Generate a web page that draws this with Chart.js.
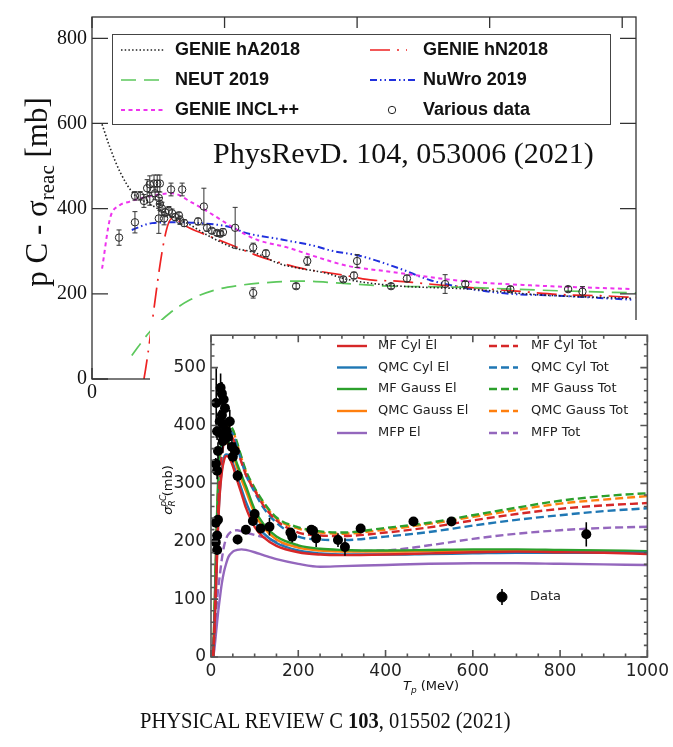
<!DOCTYPE html>
<html>
<head>
<meta charset="utf-8">
<script src="https://cdn.jsdelivr.net/npm/chart.js@4.4.1/dist/chart.umd.min.js"></script>
<style>
     html, body { margin: 0; padding: 0; background: #fff; }
     #page { position: relative; width: 673px; height: 747px; overflow: hidden; background: #fff; }
     #top { position: absolute; left: 0; top: 0; }
     #bottom { position: absolute; left: 150px; top: 320px; background: #fff; }
     .cite { position: absolute; font-family: 'Liberation Serif', serif; color: #111; white-space: nowrap; line-height: 1; }
     #citeD { left: 213px; top: 138px; font-size: 30px; }
     #citeC { left: 140px; top: 708px; font-size: 24px; transform: scaleX(0.855); transform-origin: 0 0; }
</style>
</head>
<body>
<div id="page">
     <canvas id="top" width="673" height="420"></canvas>
     <div class="cite" id="citeD">PhysRevD. 104, 053006 (2021)</div>
     <canvas id="bottom" width="523" height="385"></canvas>
     <div class="cite" id="citeC">PHYSICAL REVIEW C <b>103</b>, 015502 (2021)</div>
</div>
<script>
// ---- upper panel: generator comparison ----
const topXTicks = [0, 250, 500, 750, 1000];
const topYTicks = [0, 200, 400, 600, 800];

// data compilation (open circles)
const topDataE = [51, 81, 81, 91, 98, 104, 109, 117, 123, 128, 109, 119, 126, 128, 132, 126, 136, 138, 145, 151,
     157, 164, 149, 170, 166, 174, 200, 211, 217, 226, 236, 242, 247, 270, 304, 328, 406, 474, 494, 500,
     564, 594, 666, 704, 789, 898, 925, 304, 385];
const topDataS = [332, 368, 430, 430, 418, 448, 457, 459, 459, 459, 423, 436, 425, 411, 400, 377, 377, 391, 395, 389,
     380, 384, 445, 445, 373, 366, 370, 405, 355, 348, 343, 341, 345, 355, 309, 295, 277, 234, 243, 277,
     218, 236, 223, 223, 211, 211, 205, 202, 218];
const topDataErr = [18, 25, 10, 10, 15, 20, 20, 20, 20, 20, 15, 15, 15, 15, 15, 35, 15, 10, 10, 10,
     8, 8, 15, 15, 10, 8, 8, 43, 8, 6, 6, 6, 8, 48, 10, 8, 10, 6, 8, 15,
     6, 8, 22, 6, 6, 6, 12, 12, 6];

const hA2018E = [19, 34, 53, 79, 109, 147, 179, 223, 270, 304, 355, 387, 443, 481, 562, 713, 840, 1020];
const hA2018S = [598, 543, 486, 434, 411, 384, 366, 334, 307, 298, 270, 261, 248, 234, 220, 211, 198, 189];

const neut2019E = [75, 109, 147, 185, 232, 279, 336, 392, 468, 562, 676, 883, 1026];
const neut2019S = [55, 111, 155, 186, 209, 220, 227, 230, 225, 218, 216, 207, 202];

const inclE = [19, 34, 51, 70, 94, 151, 189, 221, 274, 311, 368, 425, 481, 562, 700, 827, 1020];
const inclS = [259, 377, 407, 416, 425, 436, 414, 391, 350, 327, 309, 286, 266, 252, 230, 220, 211];

const hN2018E = [98, 151, 183, 228, 270, 313, 355, 398, 443, 487, 530, 576, 619, 700, 794, 889, 972, 1026];
const hN2018S = [0, 377, 355, 332, 311, 289, 273, 259, 250, 241, 232, 230, 225, 216, 207, 198, 195, 191];

const nuwroE = [75, 113, 164, 204, 266, 285, 360, 425, 449, 506, 581, 638, 694, 770, 889, 1020];
const nuwroS = [350, 366, 368, 366, 355, 345, 327, 311, 302, 289, 259, 232, 216, 202, 195, 186];

// ---- lower panel: optical model (T_p in MeV, sigma in mb) ----
const botXTicks = [0, 200, 400, 600, 800, 1000];
const botYTicks = [0, 100, 200, 300, 400, 500];

const tp = [5, 8, 12, 16, 20, 25, 30, 35, 40, 50, 60, 70, 80, 100, 120, 150, 200, 250, 300, 400, 500, 600, 700, 800, 900, 1000];

const mfCylEl    = [0, 50, 130, 220, 280, 320, 340, 347, 346, 330, 305, 282, 258, 225, 207, 192, 181, 177, 176, 177, 179, 181, 182, 181, 180, 178];
const qmcCylEl   = [0, 52, 135, 225, 285, 325, 345, 350, 349, 335, 312, 290, 268, 235, 214, 197, 184, 179, 177, 177, 178, 179, 180, 180, 180, 180];
const mfGaussEl  = [0, 80, 200, 300, 350, 372, 378, 377, 372, 355, 333, 314, 295, 255, 230, 208, 193, 187, 185, 184, 185, 186, 186, 185, 184, 183];
const qmcGaussEl = [0, 70, 185, 285, 340, 365, 372, 371, 366, 350, 327, 306, 287, 248, 224, 203, 189, 184, 182, 182, 183, 184, 184, 183, 182, 181];
const mfpEl      = [0, 15, 45, 75, 100, 128, 148, 162, 173, 182, 185, 186, 185, 181, 176, 169, 161, 156, 157, 159, 161, 162, 162, 161, 160, 159];

const mfCylTot    = [0, 50, 150, 250, 310, 350, 372, 382, 385, 378, 358, 336, 315, 288, 262, 236, 215, 210, 209, 215, 224, 236, 247, 256, 262, 266];
const qmcCylTot   = [0, 50, 150, 250, 315, 355, 378, 388, 392, 385, 362, 338, 315, 285, 258, 232, 208, 203, 202, 208, 216, 227, 237, 245, 252, 257];
const mfGaussTot  = [0, 60, 180, 280, 340, 375, 393, 400, 402, 393, 370, 345, 322, 292, 268, 241, 224, 217, 215, 223, 232, 245, 258, 270, 278, 283];
const qmcGaussTot = [0, 55, 170, 270, 335, 370, 390, 397, 400, 392, 368, 343, 320, 290, 266, 239, 222, 215, 213, 220, 230, 242, 254, 265, 272, 278];
const mfpTot      = [0, 25, 80, 115, 140, 170, 192, 205, 212, 218, 219, 217, 215, 211, 207, 199, 190, 185, 183, 184, 193, 204, 213, 219, 223, 225];

const dataTp  = [12, 14, 14, 16, 20, 25, 27, 25, 27, 32, 36, 39, 43, 48, 50, 55, 61, 25, 29, 11,
     22, 11, 16, 14, 11, 14, 61, 80, 96, 100, 114, 134, 182, 186, 230, 234, 241, 291, 307, 343,
     464, 551, 860];
const dataSig = [439, 390, 322, 356, 407, 418, 402, 385, 373, 430, 390, 380, 407, 363, 346, 356, 313, 455, 445, 334,
     465, 232, 237, 210, 198, 185, 203, 220, 235, 247, 222, 225, 215, 208, 220, 218, 205, 202, 190, 222,
     234, 234, 212];
const dataErr = [60, 15, 15, 15, 20, 25, 20, 20, 20, 25, 20, 20, 20, 15, 10, 15, 10, 20, 20, 10,
     25, 8, 8, 8, 8, 8, 8, 5, 8, 8, 8, 15, 8, 10, 5, 5, 15, 12, 15, 5,
     5, 5, 21];

const pts = (xs, ys) => xs.map((x, i) => ({ x: x, y: ys[i] }));
const range = (a, b, step) => {
     const out = [];
     for (let v = a; v <= b + 1e-9; v += step) out.push(v);
     return out;
};
const curve = (label, xs, ys, color, width, dash) => ({
     label: label,
     data: pts(xs, ys),
     showLine: true,
     borderColor: color,
     borderWidth: width,
     borderDash: dash,
     pointRadius: 0,
     fill: false,
     cubicInterpolationMode: 'monotone',
});
const plain = v => String(v);

// frame, inward ticks, error bars, legend and axis titles
const makeDecor = (cfg) => ({
     id: 'decor',
     afterDatasetsDraw(chart) {
          const { ctx, chartArea: a } = chart;
          const e = cfg.errors;
          const meta = chart.getDatasetMeta(e.dataset);
          const vals = chart.data.datasets[e.dataset].data;
          const sy = chart.scales.y;
          ctx.save();
          ctx.beginPath();
          ctx.rect(a.left, a.top, a.right - a.left, a.bottom - a.top);
          ctx.clip();
          ctx.strokeStyle = e.color;
          ctx.lineWidth = e.width;
          ctx.beginPath();
          meta.data.forEach((el, i) => {
               const lo = sy.getPixelForValue(vals[i].y - e.err[i]);
               const hi = sy.getPixelForValue(vals[i].y + e.err[i]);
               ctx.moveTo(el.x, lo);
               ctx.lineTo(el.x, hi);
               if (e.cap) {
                    ctx.moveTo(el.x - e.cap, lo); ctx.lineTo(el.x + e.cap, lo);
                    ctx.moveTo(el.x - e.cap, hi); ctx.lineTo(el.x + e.cap, hi);
               }
          });
          ctx.stroke();
          ctx.restore();
     },
     afterDraw(chart) {
          const { ctx, chartArea: a } = chart;
          const sx = chart.scales.x, sy = chart.scales.y;
          const f = cfg.frame;
          ctx.save();
          ctx.strokeStyle = f.color;
          ctx.lineWidth = f.width;
          ctx.strokeRect(a.left, a.top, a.right - a.left, a.bottom - a.top);
          ctx.beginPath();
          const vx = (vals, len) => vals.forEach(v => {
               const px = sx.getPixelForValue(v);
               ctx.moveTo(px, a.bottom); ctx.lineTo(px, a.bottom - len);
               ctx.moveTo(px, a.top); ctx.lineTo(px, a.top + len);
          });
          const vy = (vals, len) => vals.forEach(v => {
               const py = sy.getPixelForValue(v);
               ctx.moveTo(a.left, py); ctx.lineTo(a.left + len, py);
               ctx.moveTo(a.right, py); ctx.lineTo(a.right - len, py);
          });
          vx(f.xMajor, f.xLen);
          vx(f.xMinor, f.minorLen);
          vy(f.yMajor, f.yLen);
          vy(f.yMinor, f.minorLen);
          ctx.stroke();
          ctx.restore();

          const L = cfg.legend;
          ctx.save();
          if (L.box) {
               ctx.fillStyle = '#fff';
               ctx.fillRect(L.box[0], L.box[1], L.box[2], L.box[3]);
               ctx.strokeStyle = '#444';
               ctx.lineWidth = 1;
               ctx.strokeRect(L.box[0] + 0.5, L.box[1] + 0.5, L.box[2], L.box[3]);
          }
          L.items.forEach(it => {
               const ds = chart.data.datasets[it.ds];
               ctx.save();
               if (!ds.showLine) {
                    const mx = (it.x0 + it.x1) / 2;
                    if (it.bar) {
                         ctx.strokeStyle = ds.pointBorderColor;
                         ctx.lineWidth = 1.6;
                         ctx.beginPath();
                         ctx.moveTo(mx, it.y - it.bar);
                         ctx.lineTo(mx, it.y + it.bar);
                         ctx.stroke();
                    }
                    ctx.beginPath();
                    ctx.arc(mx, it.y, ds.pointRadius, 0, Math.PI * 2);
                    ctx.fillStyle = ds.pointBackgroundColor;
                    ctx.fill();
                    ctx.strokeStyle = ds.pointBorderColor;
                    ctx.lineWidth = ds.pointBorderWidth || 1;
                    ctx.stroke();
               } else {
                    ctx.strokeStyle = ds.borderColor;
                    ctx.lineWidth = ds.borderWidth;
                    ctx.setLineDash(ds.borderDash || []);
                    ctx.beginPath();
                    ctx.moveTo(it.x0, it.y);
                    ctx.lineTo(it.x1, it.y);
                    ctx.stroke();
               }
               ctx.restore();
               ctx.fillStyle = L.color;
               ctx.font = L.font;
               ctx.textBaseline = 'middle';
               ctx.fillText(ds.label, it.tx, it.y);
          });
          ctx.restore();

          cfg.titles(ctx);
     },
});

// text pieces along a line: [text, font, baseline shift, advance?]
const drawPieces = (ctx, pieces, cx, cy, rotate) => {
     ctx.save();
     ctx.translate(cx, cy);
     if (rotate) ctx.rotate(-Math.PI / 2);
     ctx.fillStyle = '#111';
     ctx.textBaseline = 'alphabetic';
     let w = 0;
     pieces.forEach(p => { ctx.font = p[1]; w += p[3] === 0 ? 0 : ctx.measureText(p[0]).width; });
     let x = -w / 2;
     pieces.forEach(p => {
          ctx.font = p[1];
          ctx.fillText(p[0], x, p[2]);
          if (p[3] !== 0) x += ctx.measureText(p[0]).width;
     });
     ctx.restore();
};

// ---- upper chart ----
const topSerif = "'Liberation Serif', serif";
new Chart(document.getElementById('top'), {
     type: 'scatter',
     data: {
          datasets: [
               {
                    label: 'Various data',
                    data: pts(topDataE, topDataS),
                    showLine: false,
                    pointRadius: 3.7,
                    pointBorderWidth: 1,
                    pointBorderColor: '#222',
                    pointBackgroundColor: 'rgba(255,255,255,0)',
               },
               curve('GENIE hA2018', hA2018E, hA2018S, '#222', 1.6, [1.5, 2.2]),
               curve('NEUT 2019', neut2019E, neut2019S, '#5cc85c', 1.7, [15, 8]),
               curve('GENIE INCL++', inclE, inclS, '#ee33ee', 2, [4, 3.5]),
               curve('GENIE hN2018', hN2018E, hN2018S, '#ee2222', 1.7, [20, 7, 2, 7]),
               curve('NuWro 2019', nuwroE, nuwroS, '#2030dd', 2, [7, 3, 1.5, 3, 1.5, 3]),
          ],
     },
     options: {
          responsive: false,
          animation: false,
          devicePixelRatio: 1,
          layout: { padding: { top: 6, right: 37, left: 0, bottom: 0 } },
          plugins: { legend: { display: false }, tooltip: { enabled: false } },
          scales: {
               x: {
                    type: 'linear', min: 0, max: 1026,
                    afterBuildTicks: s => { s.ticks = topXTicks.map(v => ({ value: v })); },
                    afterFit: s => { s.height = 41; },
                    grid: { display: false, drawTicks: false },
                    border: { display: false },
                    ticks: { font: { family: topSerif, size: 20 }, color: '#111', padding: 2, maxRotation: 0, autoSkip: false, callback: plain },
               },
               y: {
                    type: 'linear', min: 0, max: 850,
                    afterBuildTicks: s => { s.ticks = topYTicks.map(v => ({ value: v })); },
                    afterFit: s => { s.width = 92; },
                    grid: { display: false, drawTicks: false },
                    border: { display: false },
                    ticks: { font: { family: topSerif, size: 20 }, color: '#111', padding: 5, callback: plain },
               },
          },
     },
     plugins: [makeDecor({
          errors: { dataset: 0, err: topDataErr, color: '#333', width: 1, cap: 2.5 },
          frame: {
               color: '#333', width: 1.3,
               xMajor: topXTicks, xMinor: [], yMajor: topYTicks, yMinor: [],
               xLen: 11, yLen: 16, minorLen: 0,
          },
          legend: {
               box: [112, 34, 498, 90],
               font: "bold 18px 'Liberation Sans', Arial, sans-serif",
               color: '#111',
               items: [
                    { ds: 1, x0: 121, x1: 164, tx: 175, y: 50 },
                    { ds: 2, x0: 121, x1: 164, tx: 175, y: 80 },
                    { ds: 3, x0: 121, x1: 164, tx: 175, y: 110 },
                    { ds: 4, x0: 370, x1: 407, tx: 423, y: 50 },
                    { ds: 5, x0: 370, x1: 417, tx: 423, y: 80 },
                    { ds: 0, x0: 377, x1: 407, tx: 423, y: 110 },
               ],
          },
          titles: ctx => {
               const big = "31px 'Liberation Serif', serif";
               const small = "21px 'Liberation Serif', serif";
               drawPieces(ctx, [['p C - \u03c3', big, 0], ['reac', small, 7], [' [mb]', big, 0]], 47, 192, true);
          },
     })],
});

// ---- lower chart ----
const dv = "'DejaVu Sans', sans-serif";
const dash = [8, 4];
new Chart(document.getElementById('bottom'), {
     type: 'scatter',
     data: {
          datasets: [
               {
                    label: 'Data',
                    data: pts(dataTp, dataSig),
                    showLine: false,
                    pointRadius: 5,
                    pointBorderWidth: 0,
                    pointBorderColor: '#000',
                    pointBackgroundColor: '#000',
               },
               curve('MF Cyl El', tp, mfCylEl, '#d62728', 2.4, []),
               curve('MF Cyl Tot', tp, mfCylTot, '#d62728', 2.4, dash),
               curve('QMC Cyl El', tp, qmcCylEl, '#1f77b4', 2.4, []),
               curve('QMC Cyl Tot', tp, qmcCylTot, '#1f77b4', 2.4, dash),
               curve('MF Gauss El', tp, mfGaussEl, '#2ca02c', 2.4, []),
               curve('MF Gauss Tot', tp, mfGaussTot, '#2ca02c', 2.4, dash),
               curve('QMC Gauss El', tp, qmcGaussEl, '#ff7f0e', 2.4, []),
               curve('QMC Gauss Tot', tp, qmcGaussTot, '#ff7f0e', 2.4, dash),
               curve('MFP El', tp, mfpEl, '#9467bd', 2.4, []),
               curve('MFP Tot', tp, mfpTot, '#9467bd', 2.4, dash),
          ],
     },
     options: {
          responsive: false,
          animation: false,
          devicePixelRatio: 1,
          layout: { padding: { top: 9, right: 22, left: 0, bottom: 0 } },
          plugins: { legend: { display: false }, tooltip: { enabled: false } },
          scales: {
               x: {
                    type: 'linear', min: 0, max: 1000,
                    afterBuildTicks: s => { s.ticks = botXTicks.map(v => ({ value: v })); },
                    afterFit: s => { s.height = 48; },
                    grid: { display: false, drawTicks: false },
                    border: { display: false },
                    ticks: { font: { family: dv, size: 17 }, color: '#222', padding: 4, maxRotation: 0, autoSkip: false, callback: plain },
               },
               y: {
                    type: 'linear', min: 0, max: 556,
                    afterBuildTicks: s => { s.ticks = botYTicks.map(v => ({ value: v })); },
                    afterFit: s => { s.width = 61; },
                    grid: { display: false, drawTicks: false },
                    border: { display: false },
                    ticks: { font: { family: dv, size: 17 }, color: '#222', padding: 5, callback: plain },
               },
          },
     },
     plugins: [makeDecor({
          errors: { dataset: 0, err: dataErr, color: '#000', width: 1.6, cap: 0 },
          frame: {
               color: '#555', width: 1.6,
               xMajor: botXTicks, xMinor: range(50, 950, 50).filter(v => v % 200 !== 0),
               yMajor: botYTicks, yMinor: range(20, 540, 20).filter(v => v % 100 !== 0),
               xLen: 7, yLen: 7, minorLen: 3.5,
          },
          legend: {
               box: null,
               font: "13px " + dv,
               color: '#222',
               items: [
                    { ds: 1, x0: 187, x1: 217, tx: 228, y: 26 },
                    { ds: 3, x0: 187, x1: 217, tx: 228, y: 47.5 },
                    { ds: 5, x0: 187, x1: 217, tx: 228, y: 69 },
                    { ds: 7, x0: 187, x1: 217, tx: 228, y: 91 },
                    { ds: 9, x0: 187, x1: 217, tx: 228, y: 113 },
                    { ds: 2, x0: 339, x1: 368, tx: 381, y: 26 },
                    { ds: 4, x0: 339, x1: 368, tx: 381, y: 47.5 },
                    { ds: 6, x0: 339, x1: 368, tx: 381, y: 69 },
                    { ds: 8, x0: 339, x1: 368, tx: 381, y: 91 },
                    { ds: 10, x0: 339, x1: 368, tx: 381, y: 113 },
                    { ds: 0, x0: 352, x1: 352, tx: 380, y: 277, bar: 8 },
               ],
          },
          titles: ctx => {
               const it13 = "italic 13px " + dv, it9 = "italic 9px " + dv, rm13 = "13px " + dv;
               // sigma with stacked sub/superscript
               drawPieces(ctx, [
                    ['\u03c3', it13, 0],
                    ['pC', it9, -6, 0],
                    ['R', it9, 3],
                    [' (mb)', rm13, 0],
               ], 22, 170, true);
               drawPieces(ctx, [['T', it13, 0], ['p', it9, 3], [' (MeV)', rm13, 0]], 281, 370, false);
          },
     })],
});
</script>
</body>
</html>
